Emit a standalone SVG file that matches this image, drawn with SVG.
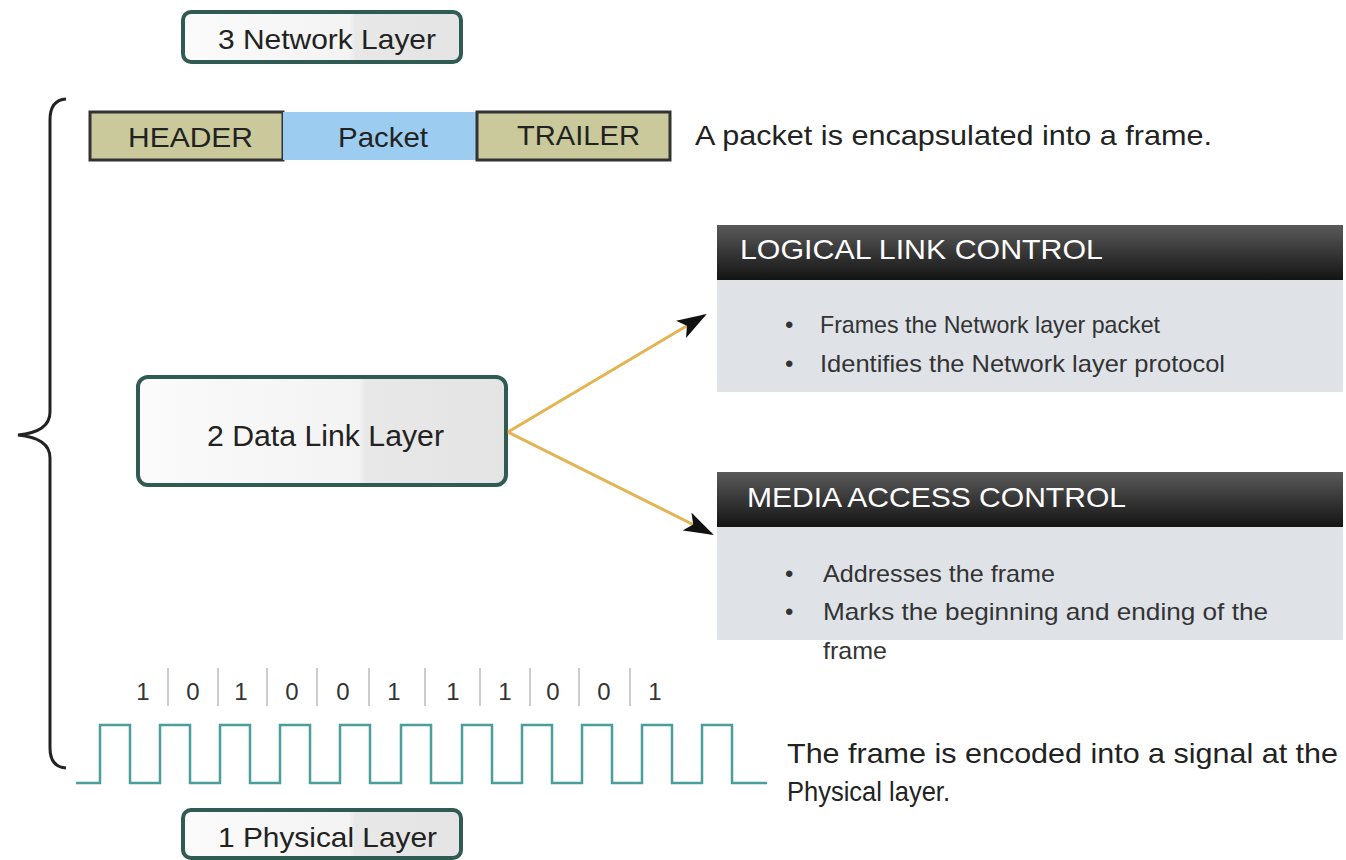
<svg xmlns="http://www.w3.org/2000/svg" width="1346" height="860" viewBox="0 0 1346 860">
<defs>
<style>
text{font-family:"Liberation Sans",Arial,sans-serif;fill:#222}
.layer{fill:url(#boxg);stroke:#2f5b52;stroke-width:4}
.lbl{font-size:28px}
.fr{stroke:#333;stroke-width:3}
.hdr{fill:url(#darkg)}
.body{fill:#dfe3e8}
.ht{font-size:28px;fill:#fff}
.bt{font-size:24px;fill:#333}
.cap{font-size:28px;fill:#222}
.bit{font-size:24px;text-anchor:middle;fill:#333}
.div{stroke:#bbb;stroke-width:1.5}
.conn{stroke:#e2b452;stroke-width:3;fill:none;marker-end:url(#ah)}
</style>
<linearGradient id="boxg" x1="0" y1="0" x2="1" y2="0">
<stop offset="0" stop-color="#fbfbfb"/><stop offset="0.6" stop-color="#f3f3f3"/><stop offset="0.62" stop-color="#e8e8e8"/><stop offset="1" stop-color="#e4e4e4"/>
</linearGradient>
<linearGradient id="darkg" x1="0" y1="0" x2="0" y2="1">
<stop offset="0" stop-color="#5a5a5a"/><stop offset="1" stop-color="#141414"/>
</linearGradient>
<marker id="ah" viewBox="0 0 30 20" refX="28" refY="10" markerWidth="30" markerHeight="20" markerUnits="userSpaceOnUse" orient="auto">
<path d="M0,0 L30,10 L0,20 L7,10 Z" fill="#111"/>
</marker>
</defs>
<rect width="1346" height="860" fill="#fff"/>

<g id="network-layer">
<rect class="layer" x="183" y="12" width="278" height="50" rx="8"/>
<text class="lbl" x="218" y="49" textLength="218" lengthAdjust="spacingAndGlyphs">3 Network Layer</text>
</g>

<g id="brace">
<path d="M66,99 Q50,100 50,120 L50,412 Q50,432 18,435 Q50,438 50,458 L50,748 Q50,767 66,768" fill="none" stroke="#222" stroke-width="3"/>
</g>

<g id="frame">
<rect x="90" y="112" width="193" height="48" fill="#c9c99b" class="fr"/>
<rect x="283" y="112" width="194" height="48" fill="#9ccdf0"/>
<rect x="477" y="112" width="193" height="48" fill="#c9c99b" class="fr"/>
<text x="128" y="147" class="lbl" textLength="125" lengthAdjust="spacingAndGlyphs">HEADER</text>
<text x="338" y="147" class="lbl" textLength="90" lengthAdjust="spacingAndGlyphs">Packet</text>
<text x="517" y="145" class="lbl" textLength="123" lengthAdjust="spacingAndGlyphs">TRAILER</text>
</g>
<text class="cap" x="695" y="145" textLength="517" lengthAdjust="spacingAndGlyphs">A packet is encapsulated into a frame.</text>

<g id="data-link-layer">
<rect class="layer" x="138" y="377" width="368" height="108" rx="10"/>
<text class="lbl" x="207" y="446" style="font-size:30px" textLength="237" lengthAdjust="spacingAndGlyphs">2 Data Link Layer</text>
</g>

<g id="connectors">
<line class="conn" x1="508" y1="432" x2="705" y2="315"/>
<line class="conn" x1="508" y1="432" x2="712" y2="534"/>
</g>

<g id="llc">
<rect class="body" x="717" y="280" width="626" height="112"/>
<rect class="hdr" x="717" y="225" width="626" height="55"/>
<text class="ht" x="740" y="259" textLength="363" lengthAdjust="spacingAndGlyphs">LOGICAL LINK CONTROL</text>
<text class="bt" x="785" y="333">•</text>
<text class="bt" x="820" y="333" textLength="340" lengthAdjust="spacingAndGlyphs">Frames the Network layer packet</text>
<text class="bt" x="785" y="372">•</text>
<text class="bt" x="820" y="372" textLength="405" lengthAdjust="spacingAndGlyphs">Identifies the Network layer protocol</text>
</g>

<g id="mac">
<rect class="body" x="717" y="527" width="626" height="113"/>
<rect class="hdr" x="717" y="472" width="626" height="55"/>
<text class="ht" x="747" y="507" textLength="379" lengthAdjust="spacingAndGlyphs">MEDIA ACCESS CONTROL</text>
<text class="bt" x="785" y="582">•</text>
<text class="bt" x="823" y="582" textLength="232" lengthAdjust="spacingAndGlyphs">Addresses the frame</text>
<text class="bt" x="785" y="620">•</text>
<text class="bt" x="823" y="620" textLength="445" lengthAdjust="spacingAndGlyphs">Marks the beginning and ending of the</text>
<text class="bt" x="823" y="659" textLength="64" lengthAdjust="spacingAndGlyphs">frame</text>
</g>

<g id="bits">
<text class="bit" x="143" y="700">1</text>
<text class="bit" x="193" y="700">0</text>
<text class="bit" x="241" y="700">1</text>
<text class="bit" x="292" y="700">0</text>
<text class="bit" x="343" y="700">0</text>
<text class="bit" x="394" y="700">1</text>
<text class="bit" x="453" y="700">1</text>
<text class="bit" x="505" y="700">1</text>
<text class="bit" x="553" y="700">0</text>
<text class="bit" x="604" y="700">0</text>
<text class="bit" x="655" y="700">1</text>
<g class="div">
<line x1="168" y1="668" x2="168" y2="706"/>
<line x1="218" y1="668" x2="218" y2="706"/>
<line x1="267" y1="668" x2="267" y2="706"/>
<line x1="317" y1="668" x2="317" y2="706"/>
<line x1="369" y1="668" x2="369" y2="706"/>
<line x1="425" y1="668" x2="425" y2="706"/>
<line x1="480" y1="668" x2="480" y2="706"/>
<line x1="530" y1="668" x2="530" y2="706"/>
<line x1="579" y1="668" x2="579" y2="706"/>
<line x1="630" y1="668" x2="630" y2="706"/>
</g>
</g>

<g id="signal">
<path d="M76,783 H100 V725 H130 V783 H160 V725 H190 V783 H220 V725 H250 V783 H280 V725 H310 V783 H340 V725 H370 V783 H401 V725 H431 V783 H462 V725 H492 V783 H522 V725 H552 V783 H582 V725 H612 V783 H642 V725 H672 V783 H702 V725 H732 V783 H767" fill="none" stroke="#4a9e9c" stroke-width="2.5"/>
</g>
<text class="cap" x="787" y="763" textLength="551" lengthAdjust="spacingAndGlyphs">The frame is encoded into a signal at the</text>
<text class="cap" x="787" y="801" textLength="163" lengthAdjust="spacingAndGlyphs">Physical layer.</text>

<g id="physical-layer">
<rect class="layer" x="183" y="810" width="278" height="48" rx="8"/>
<text class="lbl" x="218" y="847" textLength="219" lengthAdjust="spacingAndGlyphs">1 Physical Layer</text>
</g>
</svg>
